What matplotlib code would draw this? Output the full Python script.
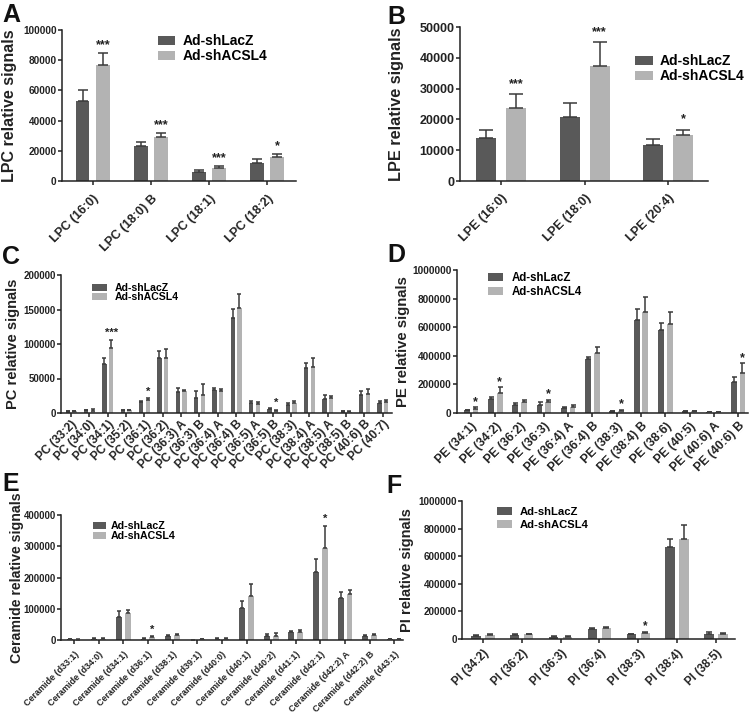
import matplotlib
matplotlib.use('Agg')
import matplotlib.pyplot as plt
import numpy as np
from matplotlib.ticker import FuncFormatter

plt.rcParams['font.family'] = ['Liberation Sans', 'DejaVu Sans']
plt.rcParams['font.weight'] = 'bold'

W, H = 750, 713
DARK = '#595959'
LIGHT = '#b3b3b3'
ERRC = '#3a3a3a'
SERIES = ['Ad-shLacZ', 'Ad-shACSL4']

# ---------------- data ----------------
# A: LPC
lpc_labels = ['LPC (16:0)', 'LPC (18:0) B', 'LPC (18:1)', 'LPC (18:2)']
lpc_lacz = [53000, 23000, 6000, 12000]
lpc_lacz_err = [7500, 3000, 1600, 2300]
lpc_acsl4 = [77000, 29000, 8500, 15800]
lpc_acsl4_err = [7500, 3000, 1400, 2100]
lpc_sig = ['***', '***', '***', '*']

# B: LPE
lpe_labels = ['LPE (16:0)', 'LPE (18:0)', 'LPE (20:4)']
lpe_lacz = [13800, 20700, 11600]
lpe_lacz_err = [2700, 4700, 1900]
lpe_acsl4 = [23600, 37200, 14900]
lpe_acsl4_err = [4700, 7800, 1800]
lpe_sig = ['***', '***', '*']

# C: PC
pc_labels = ['PC (33:2)', 'PC (34:0)', 'PC (34:1)', 'PC (35:2)', 'PC (36:1)', 'PC (36:2)',
             'PC (36:3) A', 'PC (36:3) B', 'PC (36:4) A', 'PC (36:4) B', 'PC (36:5) A',
             'PC (36:5) B', 'PC (38:3)', 'PC (38:4) A', 'PC (38:5) A', 'PC (38:5) B',
             'PC (40:6) B', 'PC (40:7)']
pc_lacz = [2400, 3900, 70700, 3900, 16000, 80400, 31000, 21800, 33900, 138400, 14500,
           6300, 12100, 65300, 19800, 2400, 25600, 14500]
pc_lacz_err = [1000, 900, 8300, 600, 1400, 9200, 5800, 10600, 2900, 12100, 2400,
               500, 2400, 7700, 5800, 500, 5900, 2500]
pc_acsl4 = [2400, 3400, 94900, 3900, 19400, 79000, 32000, 26500, 32000, 151500, 13500,
            2400, 14500, 66800, 21800, 1900, 28000, 16500]
pc_acsl4_err = [1000, 2900, 11600, 600, 2400, 14400, 1900, 15500, 2800, 20800, 2500,
                2400, 2900, 13500, 2900, 1000, 7300, 3000]
pc_sig = ['', '', '***', '', '*', '', '', '', '', '', '', '*', '', '', '', '', '', '']

# D: PE
pe_labels = ['PE (34:1)', 'PE (34:2)', 'PE (36:2)', 'PE (36:3)', 'PE (36:4) A', 'PE (36:4) B',
             'PE (38:3)', 'PE (38:4) B', 'PE (38:6)', 'PE (40:5)', 'PE (40:6) A', 'PE (40:6) B']
pe_lacz = [19000, 101000, 59000, 59000, 35000, 379000, 12000, 651000, 581000, 12000, 7000, 215000]
pe_lacz_err = [4500, 10000, 12000, 16000, 5000, 16000, 4000, 77000, 47000, 4000, 2000, 38000]
pe_acsl4 = [30000, 141000, 75000, 75000, 42000, 419000, 16000, 705000, 623000, 12000, 7000, 282000]
pe_acsl4_err = [10000, 42000, 19000, 19000, 12000, 41000, 7000, 109000, 86000, 2000, 2000, 65000]
pe_sig = ['*', '*', '', '*', '', '', '*', '', '', '', '', '*']

# E: Ceramide
cer_labels = ['Ceramide (d33:1)', 'Ceramide (d34:0)', 'Ceramide (d34:1)', 'Ceramide (d36:1)',
              'Ceramide (d38:1)', 'Ceramide (d39:1)', 'Ceramide (d40:0)', 'Ceramide (d40:1)',
              'Ceramide (d40:2)', 'Ceramide (d41:1)', 'Ceramide (d42:1)', 'Ceramide (d42:2) A',
              'Ceramide (d42:2) B', 'Ceramide (d43:1)']
cer_lacz = [2100, 4300, 72300, 4300, 13800, 400, 4300, 102000, 13800, 26600, 217000, 133000, 12800, 2000]
cer_lacz_err = [1100, 2100, 19200, 1000, 1000, 200, 2100, 23500, 6400, 2100, 41500, 20200, 2100, 500]
cer_acsl4 = [1100, 4300, 85100, 8500, 16000, 3000, 3200, 141500, 13800, 26600, 295800, 147900, 16000, 3000]
cer_acsl4_err = [1000, 2100, 11700, 3200, 2100, 500, 3200, 38300, 8500, 4300, 70200, 12800, 4200, 1000]
cer_sig = ['', '', '', '*', '', '', '', '', '', '', '*', '', '', '']

# F: PI
pi_labels = ['PI (34:2)', 'PI (36:2)', 'PI (36:3)', 'PI (36:4)', 'PI (38:3)', 'PI (38:4)', 'PI (38:5)']
pi_lacz = [24000, 29000, 17000, 75000, 33000, 668000, 38000]
pi_lacz_err = [4000, 4000, 3000, 5000, 4000, 60000, 10000]
pi_acsl4 = [31000, 33000, 16000, 80000, 45000, 728000, 39000]
pi_acsl4_err = [5000, 5000, 2500, 10000, 8000, 96000, 6000]
pi_sig = ['', '', '', '', '*', '', '']

fig = plt.figure(figsize=(W / 100, H / 100), dpi=100)


def px_rect(l, t, r, b):
    return [l / W, 1 - b / H, (r - l) / W, (b - t) / H]


def panel(labels, lacz, lacz_err, acsl4, acsl4_err, sig, *, rect, xlim, ymax, ystep,
          ylabel, ylab_x, fs_ytick, fs_xtick, fs_ylab, xpad, cap, star_fs, star_off,
          fs_leg, leg_xy, hlen, hhei, hpad, lspace, letter, letter_xy):
    ax = fig.add_axes(px_rect(*rect))
    ax.patch.set_alpha(0)
    n = len(labels)
    x = np.arange(n)
    off, w = 0.18, 0.24
    b1 = ax.bar(x - off, lacz, w, color=DARK, zorder=2, label=SERIES[0])
    b2 = ax.bar(x + off, acsl4, w, color=LIGHT, zorder=2, label=SERIES[1])
    z = np.zeros(n)
    ax.errorbar(x - off, lacz, yerr=[z, lacz_err], fmt='none', ecolor=ERRC,
                elinewidth=1.1, capsize=cap, capthick=1.1, zorder=3)
    ax.errorbar(x + off, acsl4, yerr=[z, acsl4_err], fmt='none', ecolor=ERRC,
                elinewidth=1.1, capsize=cap, capthick=1.1, zorder=3)
    for i, s in enumerate(sig):
        if s:
            ax.annotate(s, (x[i] + off, acsl4[i] + acsl4_err[i]), xytext=(0, star_off),
                        textcoords='offset points', ha='center', va='baseline',
                        fontsize=star_fs, fontweight='bold', color='#222222')
    ax.set_xlim(*xlim)
    ax.set_ylim(0, ymax)
    ax.set_yticks(np.arange(0, ymax + 1, ystep))
    ax.yaxis.set_major_formatter(FuncFormatter(lambda v, p: '%d' % v))
    ax.set_xticks(x)
    ax.set_xticklabels(labels, rotation=45, ha='right', rotation_mode='anchor',
                       fontsize=fs_xtick, fontweight='bold')
    for t in ax.get_yticklabels():
        t.set_fontsize(fs_ytick)
        t.set_fontweight('bold')
    for sp in ['top', 'right']:
        ax.spines[sp].set_visible(False)
    for sp in ['left', 'bottom']:
        ax.spines[sp].set_linewidth(1.1)
        ax.spines[sp].set_color('#222222')
    ax.tick_params(axis='y', length=3, width=1.1, pad=0.8, colors='#222222',
                   labelsize=fs_ytick)
    ax.tick_params(axis='x', length=3, width=1.1, pad=xpad, colors='#222222')
    l, t, r, b = rect
    fig.text(ylab_x / W, 1 - ((t + b) / 2) / H, ylabel, rotation=90, ha='center',
             va='center', fontsize=fs_ylab, fontweight='bold', color='#222222')
    ax.legend([b1, b2], SERIES, loc='upper left',
              bbox_to_anchor=(leg_xy[0] / W, 1 - leg_xy[1] / H),
              bbox_transform=fig.transFigure, frameon=False, borderpad=0,
              borderaxespad=0, handlelength=hlen, handleheight=hhei,
              handletextpad=hpad, labelspacing=lspace,
              prop={'size': fs_leg, 'weight': 'bold'})
    fig.text(letter_xy[0] / W, 1 - letter_xy[1] / H, letter, ha='left', va='top',
             fontsize=18, fontweight='bold', color='#111111')
    return ax


panel(lpc_labels, lpc_lacz, lpc_lacz_err, lpc_acsl4, lpc_acsl4_err, lpc_sig,
      rect=(62, 30, 296, 181), xlim=(-0.534, 3.5), ymax=100000, ystep=20000,
      ylabel='LPC relative signals', ylab_x=10, fs_ytick=7.2, fs_xtick=9, fs_ylab=11.5,
      xpad=5.5, cap=3.6, star_fs=9, star_off=3.5,
      fs_leg=10, leg_xy=(158, 34), hlen=1.2, hhei=0.63, hpad=0.56, lspace=0.1,
      letter='A', letter_xy=(2, 3))

panel(lpe_labels, lpe_lacz, lpe_lacz_err, lpe_acsl4, lpe_acsl4_err, lpe_sig,
      rect=(460, 27, 708, 181), xlim=(-0.494, 2.48), ymax=50000, ystep=10000,
      ylabel='LPE relative signals', ylab_x=396, fs_ytick=9, fs_xtick=9, fs_ylab=11.7,
      xpad=5, cap=4.7, star_fs=9, star_off=5,
      fs_leg=10, leg_xy=(635, 54), hlen=1.27, hhei=0.6, hpad=0.5, lspace=0.1,
      letter='B', letter_xy=(387, 5))

panel(pc_labels, pc_lacz, pc_lacz_err, pc_acsl4, pc_acsl4_err, pc_sig,
      rect=(61, 275, 392, 413), xlim=(-0.55, 17.5), ymax=200000, ystep=50000,
      ylabel='PC relative signals', ylab_x=13, fs_ytick=7, fs_xtick=8.6, fs_ylab=10.5,
      xpad=0.5, cap=1.6, star_fs=8, star_off=2.5,
      fs_leg=7.6, leg_xy=(92, 283), hlen=1.4, hhei=0.62, hpad=0.75, lspace=-0.05,
      letter='C', letter_xy=(2, 245))

panel(pe_labels, pe_lacz, pe_lacz_err, pe_acsl4, pe_acsl4_err, pe_sig,
      rect=(457, 270, 748, 413), xlim=(-0.58, 11.41), ymax=1000000, ystep=200000,
      ylabel='PE relative signals', ylab_x=403, fs_ytick=7.3, fs_xtick=8.8, fs_ylab=10.7,
      xpad=2, cap=1.8, star_fs=9, star_off=1.5,
      fs_leg=8.3, leg_xy=(488, 272), hlen=1.28, hhei=0.7, hpad=0.75, lspace=0.2,
      letter='D', letter_xy=(387, 243))

panel(cer_labels, cer_lacz, cer_lacz_err, cer_acsl4, cer_acsl4_err, cer_sig,
      rect=(61, 515, 403, 640), xlim=(-0.53, 13.35), ymax=400000, ystep=100000,
      ylabel='Ceramide relative signals', ylab_x=17, fs_ytick=6.9, fs_xtick=6.5, fs_ylab=10.2,
      xpad=4, cap=1.7, star_fs=8, star_off=2.5,
      fs_leg=7.7, leg_xy=(93, 521), hlen=1.2, hhei=0.62, hpad=0.46, lspace=0.04,
      letter='E', letter_xy=(2, 472))

panel(pi_labels, pi_lacz, pi_lacz_err, pi_acsl4, pi_acsl4_err, pi_sig,
      rect=(462, 501, 735, 639), xlim=(-0.54, 6.49), ymax=1000000, ystep=200000,
      ylabel='PI relative signals', ylab_x=407, fs_ytick=7.1, fs_xtick=8.4, fs_ylab=10.5,
      xpad=3, cap=2.2, star_fs=8.5, star_off=2,
      fs_leg=8.1, leg_xy=(497, 507), hlen=1.33, hhei=0.68, hpad=0.7, lspace=0.25,
      letter='F', letter_xy=(386, 474))

fig.savefig('out.png', dpi=100)
